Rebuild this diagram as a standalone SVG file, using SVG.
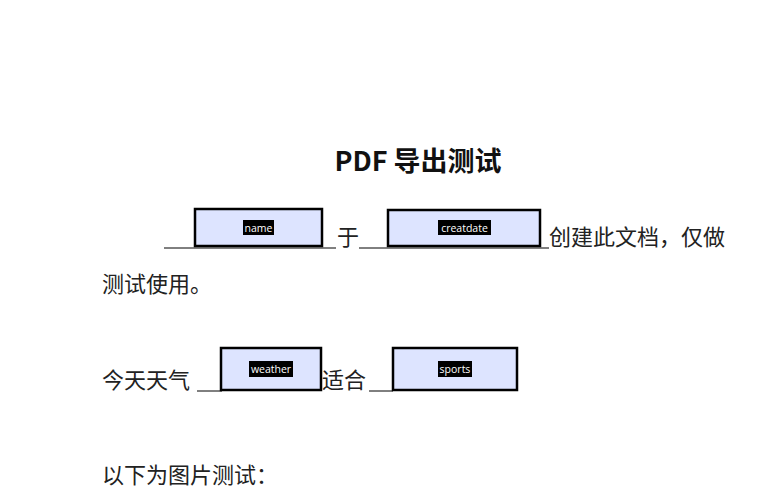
<svg xmlns="http://www.w3.org/2000/svg" width="781" height="496" viewBox="0 0 781 496">
<style>
.t{font-family:"Noto Sans CJK SC","Noto Sans",sans-serif;font-size:22px;fill:#222}
.box{fill:#dde4ff;stroke:#000;stroke-width:2.5}
.lb{fill:#000}
.lt{font-family:"Open Sans","Noto Sans",sans-serif;font-size:10.5px;fill:#fff;text-anchor:middle}
.u{stroke:#000;stroke-width:1}
</style>
<rect width="781" height="496" fill="#fff"/>
<text x="418" y="171" text-anchor="middle" font-family="'Noto Sans CJK SC','Noto Sans',sans-serif" font-weight="bold" font-size="27" fill="#111">PDF 导出测试</text>
<g id="lines">
<line class="u" x1="164" y1="248" x2="336" y2="248"/>
<line class="u" x1="359" y1="248" x2="549" y2="248"/>
<line class="u" x1="197" y1="391" x2="222" y2="391"/>
<line class="u" x1="369" y1="391" x2="393" y2="391"/>
</g>
<text class="t" x="337" y="245">于</text>
<text class="t" x="549" y="245">创建此文档，仅做</text>
<text class="t" x="102" y="292">测试使用。</text>
<text class="t" x="102" y="388">今天天气</text>
<text class="t" x="322" y="388">适合</text>
<text class="t" x="102" y="483">以下为图片测试：</text>
<g id="name"><rect class="box" x="195" y="209" width="127" height="37"/><rect class="lb" x="243" y="220" width="31" height="15"/><text class="lt" x="258.5" y="232">name</text></g>
<g id="creatdate"><rect class="box" x="388" y="210" width="152" height="36"/><rect class="lb" x="438" y="220" width="53" height="15"/><text class="lt" x="464.5" y="232">creatdate</text></g>
<g id="weather"><rect class="box" x="221" y="348" width="100" height="42"/><rect class="lb" x="249" y="361" width="44" height="16"/><text class="lt" x="271" y="373">weather</text></g>
<g id="sports"><rect class="box" x="393" y="348" width="124" height="42"/><rect class="lb" x="438" y="361" width="34" height="16"/><text class="lt" x="455" y="373">sports</text></g>
</svg>
